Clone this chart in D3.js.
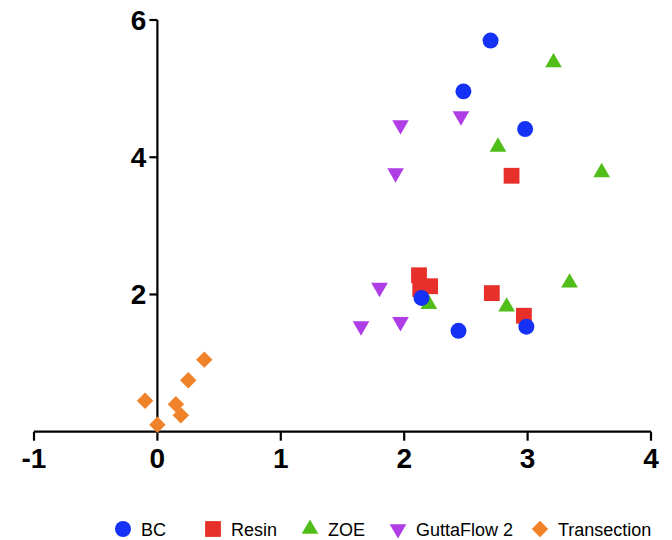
<!DOCTYPE html>
<html>
<head>
<meta charset="utf-8">
<script src="https://cdn.jsdelivr.net/npm/d3@7"></script>
<style>
  html, body { margin: 0; padding: 0; background: #fff; }
  svg { display: block; }
  .tick-label { font-family: "Liberation Sans", Arial, sans-serif; font-weight: bold; font-size: 28px; fill: #000; }
  .legend-label { font-family: "Liberation Sans", Arial, sans-serif; font-size: 18px; fill: #000; }
</style>
</head>
<body>
<svg id="chart" width="672" height="540"></svg>
<script>
// Group names and colours
const groups = ["BC", "Resin", "ZOE", "GuttaFlow 2", "Transection"];
const colors = ["#1431f5", "#e8302a", "#50bd19", "#b03ee6", "#f0822a"];

// Measurements per group: x values and y values
const bcX = [2.70, 2.48, 2.98, 2.14, 2.44, 2.99];
const bcY = [5.70, 4.96, 4.41, 1.95, 1.47, 1.53];

const resinX = [2.87, 2.12, 2.21, 2.13, 2.71, 2.97];
const resinY = [3.73, 2.28, 2.12, 2.08, 2.02, 1.69];

const zoeX = [3.21, 2.76, 3.60, 2.20, 2.83, 3.34];
const zoeY = [5.38, 4.15, 3.78, 1.86, 1.82, 2.17];

const guttaX = [1.97, 2.46, 1.93, 1.80, 1.65, 1.97];
const guttaY = [4.47, 4.60, 3.77, 2.10, 1.54, 1.60];

const transX = [0.38, 0.25, -0.10, 0.15, 0.19, 0.00];
const transY = [1.05, 0.75, 0.45, 0.40, 0.24, 0.10];

// Axis ticks
const xTicks = [-1, 0, 1, 2, 3, 4];
const yTicks = [2, 4, 6];

const seriesX = [bcX, resinX, zoeX, guttaX, transX];
const seriesY = [bcY, resinY, zoeY, guttaY, transY];
// Diamond is drawn as a square turned by 45 degrees
const shapes = [d3.symbolCircle, d3.symbolSquare, d3.symbolTriangle, d3.symbolTriangle, d3.symbolSquare];
const rotations = [0, 0, 0, 180, 45];
const sizes = [200, 250, 120, 120, 135];

const svg = d3.select("#chart");

const x = d3.scaleLinear().domain([-1, 4]).range([34, 651]);
const y = d3.scaleLinear().domain([0, 6]).range([431.7, 20]);

// X axis along y = 0
const xAxis = svg.append("g").attr("transform", `translate(0,${y(0)})`);
xAxis.append("line")
  .attr("x1", x(-1)).attr("x2", x(4))
  .attr("stroke", "#000").attr("stroke-width", 2.2);
xAxis.selectAll(".xt").data(xTicks).join("line")
  .attr("x1", d => x(d)).attr("x2", d => x(d))
  .attr("y1", 0).attr("y2", 9)
  .attr("stroke", "#000").attr("stroke-width", 2.2);
xAxis.selectAll(".xl").data(xTicks).join("text")
  .attr("class", "tick-label")
  .attr("x", d => x(d)).attr("y", 36)
  .attr("text-anchor", "middle")
  .text(d => d);

// Y axis along x = 0
const yAxis = svg.append("g").attr("transform", `translate(${x(0)},0)`);
yAxis.append("line")
  .attr("y1", y(0)).attr("y2", y(6))
  .attr("stroke", "#000").attr("stroke-width", 2.2);
yAxis.selectAll(".yt").data(yTicks).join("line")
  .attr("x1", -8).attr("x2", 0)
  .attr("y1", d => y(d)).attr("y2", d => y(d))
  .attr("stroke", "#000").attr("stroke-width", 2.2);
yAxis.selectAll(".yl").data(yTicks).join("text")
  .attr("class", "tick-label")
  .attr("x", -11).attr("y", d => y(d) + 10)
  .attr("text-anchor", "end")
  .text(d => d);

// Points: later groups first so BC sits on top
const plot = svg.append("g");
for (let i = groups.length - 1; i >= 0; i--) {
  const pts = seriesX[i].map((vx, k) => [vx, seriesY[i][k]]);
  const sym = d3.symbol().type(shapes[i]).size(sizes[i]);
  plot.append("g").selectAll("path").data(pts).join("path")
    .attr("d", sym)
    .attr("transform", d => `translate(${x(d[0])},${y(d[1])}) rotate(${rotations[i]})`)
    .attr("fill", colors[i]);
}

// Legend
const legendMarkX = [123, 213, 310, 398, 540];
const legend = svg.append("g").attr("transform", "translate(0,529)");
groups.forEach((g, i) => {
  const sym = d3.symbol().type(shapes[i]).size(sizes[i]);
  legend.append("path")
    .attr("d", sym)
    .attr("transform", `translate(${legendMarkX[i]},0) rotate(${rotations[i]})`)
    .attr("fill", colors[i]);
  legend.append("text")
    .attr("class", "legend-label")
    .attr("x", legendMarkX[i] + 18).attr("y", 6.5)
    .text(g);
});
</script>
</body>
</html>
